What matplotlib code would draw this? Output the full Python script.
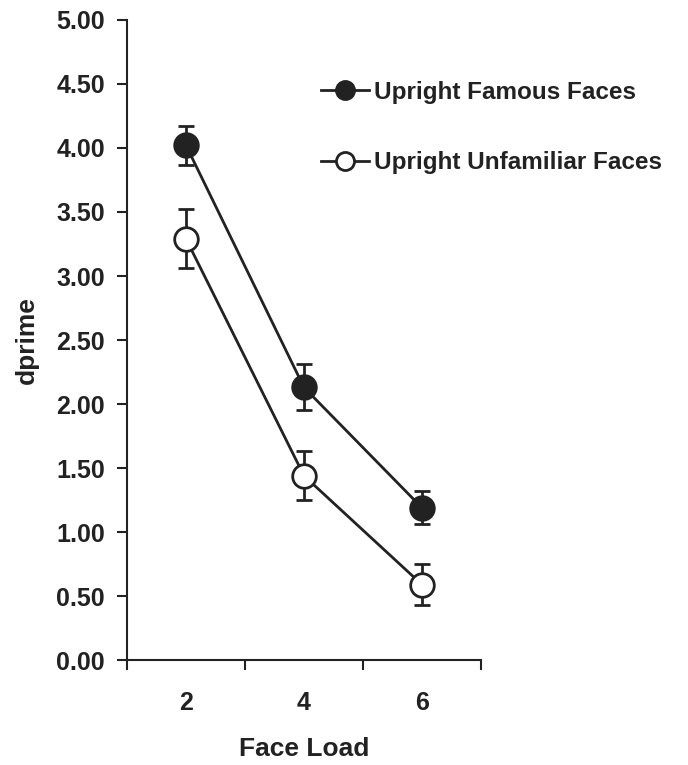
import numpy as np
import matplotlib.pyplot as plt
from matplotlib.lines import Line2D

plt.rcParams['font.family'] = ['Liberation Sans', 'DejaVu Sans']
plt.rcParams['font.weight'] = 'bold'

loads = ['2', '4', '6']
famous = [4.02, 2.13, 1.19]
famous_err = [0.15, 0.18, 0.13]
unfamiliar = [3.29, 1.44, 0.59]
unfamiliar_err = [0.23, 0.19, 0.16]

x = np.arange(1, len(loads) + 1)
ink = '#222222'

fig = plt.figure(figsize=(6.88, 7.65), dpi=100)
ax = fig.add_axes([0.1846, 0.137, 0.5145, 0.837])

ax.errorbar(x, famous, yerr=famous_err, color=ink, linewidth=2, marker='o',
            markersize=17, markerfacecolor=ink, markeredgecolor=ink,
            markeredgewidth=2, capsize=6, capthick=2, elinewidth=2, zorder=3)
ax.errorbar(x, unfamiliar, yerr=unfamiliar_err, color=ink, linewidth=2, marker='o',
            markersize=17, markerfacecolor='white', markeredgecolor=ink,
            markeredgewidth=2, capsize=6, capthick=2, elinewidth=2, zorder=3)

ax.set_xlim(0.5, 3.5)
ax.set_ylim(0, 5)
yt = np.arange(0, 5.01, 0.5)
ax.set_yticks(yt)
ax.set_yticklabels([f'{v:.2f}' for v in yt])
ax.set_xticks([0.5, 1.5, 2.5, 3.5])
ax.set_xticklabels([])
ax.set_xticks(x, minor=True)
ax.set_xticklabels(loads, minor=True)
ax.tick_params(axis='x', which='minor', length=0, pad=22, labelsize=18, labelcolor=ink)
ax.tick_params(axis='x', which='major', length=7, width=1.5, color=ink)
ax.tick_params(axis='y', length=7, width=1.5, color=ink, labelsize=18, labelcolor=ink, pad=9)

for s in ['top', 'right']:
    ax.spines[s].set_visible(False)
for s in ['left', 'bottom']:
    ax.spines[s].set_linewidth(1.5)
    ax.spines[s].set_color(ink)

ax.set_xlabel('Face Load', fontsize=19, fontweight='bold', color=ink, labelpad=16)
ax.set_ylabel('dprime', fontsize=19, fontweight='bold', color=ink, labelpad=12)

handles = [
    Line2D([], [], color=ink, linewidth=2, marker='o', markersize=13,
           markerfacecolor=ink, markeredgecolor=ink, markeredgewidth=2),
    Line2D([], [], color=ink, linewidth=2, marker='o', markersize=13,
           markerfacecolor='white', markeredgecolor=ink, markeredgewidth=2),
]
leg = ax.legend(handles, ['Upright Famous Faces', 'Upright Unfamiliar Faces'],
                loc='upper left', bbox_to_anchor=(0.52, 0.92), frameon=False,
                fontsize=17.5, handlelength=2.0, handletextpad=0.2,
                labelspacing=1.95, borderaxespad=0)
for t in leg.get_texts():
    t.set_color(ink)

plt.savefig('out.png', dpi=100)
